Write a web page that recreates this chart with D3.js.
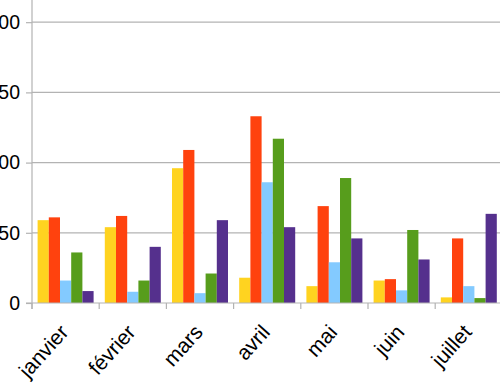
<!DOCTYPE html>
<html>
<head>
<meta charset="utf-8">
<script src="https://cdn.jsdelivr.net/npm/d3@7"></script>
<style>
  html, body { margin: 0; padding: 0; background: #fff; }
  svg { display: block; }
  text { font-family: "Liberation Sans", Arial, sans-serif; }
</style>
</head>
<body>
<svg id="chart" width="500" height="385"></svg>
<script>
const months = ["janvier", "février", "mars", "avril", "mai", "juin", "juillet"];
const seriesNames = ["s1", "s2", "s3", "s4", "s5"];
const s1 = [59, 54, 96, 18, 12, 16, 4];
const s2 = [61, 62, 109, 133, 69, 17, 46];
const s3 = [16, 8, 7, 86, 29, 9, 12];
const s4 = [36, 16, 21, 117, 89, 52, 3.5];
const s5 = [8.5, 40, 59, 54, 46, 31, 63.5];
const seriesValues = [s1, s2, s3, s4, s5];
const colors = ["#ffd320", "#ff420e", "#83caff", "#579d1c", "#55308d"];
const yTicks = [0, 50, 100, 150, 200];

const svg = d3.select("#chart");
const left = 32, bottom = 303, bandW = 67.2;
const x = d3.scaleBand().domain(months).range([left, left + bandW * months.length]).padding(0);
const bw = x.bandwidth();
const x1 = d3.scaleBand().domain(seriesNames).range([bw / 12, bw * 11 / 12]).padding(0);
const y = d3.scaleLinear().domain([0, 215.8]).range([bottom, 0]);

// gridlines
svg.append("g")
  .selectAll("line")
  .data(yTicks.filter(d => d > 0))
  .join("line")
  .attr("x1", left).attr("x2", 500)
  .attr("y1", d => y(d)).attr("y2", d => y(d))
  .attr("stroke", "#b3b3b3").attr("stroke-width", 1.2);

// bars
const groups = svg.append("g").selectAll("g")
  .data(months)
  .join("g")
  .attr("transform", d => `translate(${x(d)},0)`);
groups.selectAll("rect")
  .data((m, i) => seriesNames.map((s, j) => ({ s, v: seriesValues[j][i], c: colors[j] })))
  .join("rect")
  .attr("x", d => x1(d.s))
  .attr("width", x1.bandwidth())
  .attr("y", d => y(d.v))
  .attr("height", d => bottom - y(d.v))
  .attr("fill", d => d.c);

// y axis
const yAxis = svg.append("g")
  .attr("transform", `translate(${left},0)`)
  .call(d3.axisLeft(y).tickValues(yTicks).tickSize(6).tickPadding(6).tickFormat(d3.format("d")));
yAxis.select(".domain").remove();
yAxis.selectAll("line").attr("stroke", "#b3b3b3").attr("stroke-width", 1.2);
yAxis.selectAll("text").attr("font-size", 19.5).attr("fill", "#000")
  .attr("font-family", "Liberation Sans, Arial, sans-serif");
svg.append("line")
  .attr("x1", left).attr("x2", left).attr("y1", 0).attr("y2", bottom + 6)
  .attr("stroke", "#b3b3b3").attr("stroke-width", 1.2);

// x axis
svg.append("line")
  .attr("x1", left - 6).attr("x2", 500).attr("y1", bottom).attr("y2", bottom)
  .attr("stroke", "#b3b3b3").attr("stroke-width", 1.2);
svg.append("g").selectAll("line")
  .data(months.concat(["__end"]))
  .join("line")
  .attr("x1", (d, i) => i < months.length ? x(d) : x.range()[1])
  .attr("x2", (d, i) => i < months.length ? x(d) : x.range()[1])
  .attr("y1", bottom).attr("y2", bottom + 6)
  .attr("stroke", "#b3b3b3").attr("stroke-width", 1.2);

const xAxis = svg.append("g")
  .attr("transform", `translate(0,${bottom})`)
  .call(d3.axisBottom(x).tickSize(0));
xAxis.select(".domain").remove();
xAxis.selectAll("text")
  .attr("font-size", 21).attr("fill", "#000")
  .attr("font-family", "Liberation Sans, Arial, sans-serif")
  .attr("text-anchor", "end")
  .attr("y", 0).attr("dy", 0)
  .attr("transform", "translate(4,30) rotate(-48)");
</script>
</body>
</html>
